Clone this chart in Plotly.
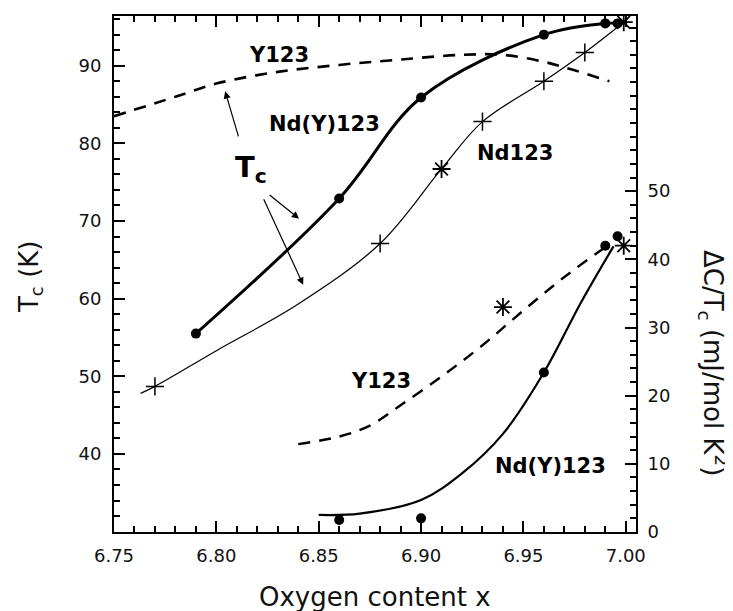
import plotly.graph_objects as go

# ---------------- data ----------------
# Tc (left axis, K)
ndy_tc_x = [6.79, 6.86, 6.90, 6.96, 6.99, 6.996]
ndy_tc = [55.5, 72.9, 85.9, 94.0, 95.45, 95.45]

nd123_curve_x = [6.763, 6.77, 6.80, 6.84, 6.88, 6.91, 6.93, 6.96, 6.98, 6.999]
nd123_curve = [47.8, 48.7, 53.3, 59.3, 67.1, 76.7, 82.8, 88.0, 91.7, 95.6]
nd123_plus_x = [6.77, 6.88, 6.93, 6.96, 6.98]
nd123_plus = [48.7, 67.1, 82.8, 88.0, 91.7]
nd123_star_x = [6.91, 6.999]
nd123_star = [76.7, 95.6]

y123_tc_x = [6.75, 6.78, 6.80, 6.83, 6.86, 6.89, 6.92, 6.94, 6.96, 6.975, 6.992]
y123_tc = [83.5, 86.0, 87.7, 89.2, 90.1, 90.8, 91.4, 91.4, 90.5, 89.4, 88.0]

# Delta C / Tc (right axis, mJ/mol K^2)
y123_dc_x = [6.84, 6.86, 6.875, 6.89, 6.91, 6.93, 6.95, 6.97, 6.99]
y123_dc = [12.9, 14.0, 15.6, 18.6, 22.8, 27.4, 32.5, 37.4, 41.8]

ndy_dc_curve_x = [6.85, 6.87, 6.90, 6.92, 6.94, 6.96, 6.978, 6.994]
ndy_dc_curve = [2.5, 2.7, 4.7, 8.6, 14.4, 23.4, 33.6, 41.9]
ndy_dc_x = [6.86, 6.90, 6.96, 6.99, 6.996]
ndy_dc = [1.75, 2.0, 23.4, 42.0, 43.4]

nd123_dc_star_x = [6.94, 6.999]
nd123_dc_star = [33.0, 42.0]

x_ticks = [6.75, 6.80, 6.85, 6.90, 6.95, 7.00]
y_ticks = [40, 50, 60, 70, 80, 90]
y2_ticks = [0, 10, 20, 30, 40, 50]

# ---------------- figure ----------------
FONT = "DejaVu Sans"
INK = "black"
fig = go.Figure()

# Y123 Tc dashed
fig.add_trace(go.Scatter(x=y123_tc_x, y=y123_tc, mode="lines",
                         line=dict(color=INK, width=2.6, dash="12px,9px", shape="spline"),
                         showlegend=False))
# Nd(Y)123 Tc thick
fig.add_trace(go.Scatter(x=ndy_tc_x, y=ndy_tc, mode="lines+markers",
                         line=dict(color=INK, width=3, shape="spline"),
                         marker=dict(symbol="circle", size=10, color=INK),
                         showlegend=False))
# Nd123 Tc thin
fig.add_trace(go.Scatter(x=nd123_curve_x, y=nd123_curve, mode="lines",
                         line=dict(color=INK, width=1.2, shape="spline"),
                         showlegend=False))
fig.add_trace(go.Scatter(x=nd123_plus_x, y=nd123_plus, mode="markers",
                         marker=dict(symbol="cross-thin-open", size=13, color=INK,
                                     line=dict(color=INK, width=1.5)),
                         showlegend=False))
fig.add_trace(go.Scatter(x=nd123_star_x, y=nd123_star, mode="markers",
                         marker=dict(symbol="asterisk-open", size=15, color=INK,
                                     line=dict(color=INK, width=1.8)),
                         showlegend=False))

# Y123 dC/Tc dashed (right axis)
fig.add_trace(go.Scatter(x=y123_dc_x, y=y123_dc, mode="lines", yaxis="y2",
                         line=dict(color=INK, width=2.4, dash="12px,9px", shape="spline"),
                         showlegend=False))
# Nd(Y)123 dC/Tc
fig.add_trace(go.Scatter(x=ndy_dc_curve_x, y=ndy_dc_curve, mode="lines", yaxis="y2",
                         line=dict(color=INK, width=2.2, shape="spline"),
                         showlegend=False))
fig.add_trace(go.Scatter(x=ndy_dc_x, y=ndy_dc, mode="markers", yaxis="y2",
                         marker=dict(symbol="circle", size=10, color=INK),
                         showlegend=False))
fig.add_trace(go.Scatter(x=nd123_dc_star_x, y=nd123_dc_star, mode="markers", yaxis="y2",
                         marker=dict(symbol="asterisk-open", size=15, color=INK,
                                     line=dict(color=INK, width=1.8)),
                         showlegend=False))

axis_common = dict(showline=True, linecolor=INK, linewidth=2, ticks="inside",
                   tickcolor=INK, tickwidth=2, ticklen=11, showgrid=False,
                   zeroline=False, tickfont=dict(family=FONT, size=18, color="#111"))
minor_common = dict(ticks="inside", ticklen=6, tickwidth=2, tickcolor=INK)

# the page body adds an 8 px offset, so the figure is 8 px smaller and shifted
fig.update_layout(
    width=725, height=603,
    margin=dict(l=106, r=97, t=6, b=79),
    plot_bgcolor="white", paper_bgcolor="white",
    font=dict(family=FONT, color=INK),
    xaxis=dict(range=[6.75, 7.005], tickvals=x_ticks, ticktext=[f"{v:.2f}" for v in x_ticks],
               mirror="ticks", ticklabelstandoff=6,
               minor=dict(dtick=0.01, tick0=6.75, **minor_common),
               **axis_common),
    yaxis=dict(range=[29.95, 96.4], tickvals=y_ticks, ticklabelstandoff=7,
               minor=dict(dtick=2, tick0=0, **minor_common),
               **axis_common),
    yaxis2=dict(range=[0, 75.7], overlaying="y", side="right", tickvals=y2_ticks,
                ticklabelstandoff=6,
                minor=dict(dtick=2, tick0=0, **minor_common),
                **axis_common),
)

bold = dict(family=FONT, size=21, color=INK, weight="bold")
labels = [
    ("Y123", 6.8306, 91.4),
    ("Nd(Y)123", 6.8527, 82.5),
    ("Nd123", 6.946, 78.8),
    ("Y123", 6.8805, 49.4),
    ("Nd(Y)123", 6.963, 38.4),
]
for txt, x, y in labels:
    fig.add_annotation(x=x, y=y, xref="x", yref="y", text=txt, showarrow=False,
                       font=bold, xanchor="center", yanchor="middle")

fig.add_annotation(x=6.817, y=76.7, xref="x", yref="y",
                   text="T<sub>c</sub>", showarrow=False,
                   font=dict(family=FONT, size=29, color=INK, weight="bold"))

arrows = [
    ((6.8043, 86.7), (6.811, 80.7)),
    ((6.8404, 70.3), (6.8253, 73.5)),
    ((6.8424, 61.8), (6.8228, 73.0)),
]
for (hx, hy), (tx, ty) in arrows:
    fig.add_annotation(x=hx, y=hy, ax=tx, ay=ty, xref="x", yref="y", axref="x", ayref="y",
                       text="", showarrow=True, arrowhead=2, arrowsize=1.2,
                       arrowwidth=1.2, arrowcolor=INK)

title_font = dict(family=FONT, size=26, color="#111")
fig.add_annotation(x=0.5, y=-0.1255, xref="paper", yref="paper", text="Oxygen content x",
                   showarrow=False, font=title_font, xanchor="center", yanchor="middle")
fig.add_annotation(x=-0.161, y=0.496, xref="paper", yref="paper", text="T<sub>c</sub> (K)",
                   showarrow=False, textangle=-90, font=title_font,
                   xanchor="center", yanchor="middle")
fig.add_annotation(x=1.147, y=0.328, xref="paper", yref="paper",
                   text="\u0394C/T<sub>c</sub> (mJ/mol K<sup>2</sup>)",
                   showarrow=False, textangle=90, font=title_font,
                   xanchor="center", yanchor="middle")

fig.write_html("out.html")
